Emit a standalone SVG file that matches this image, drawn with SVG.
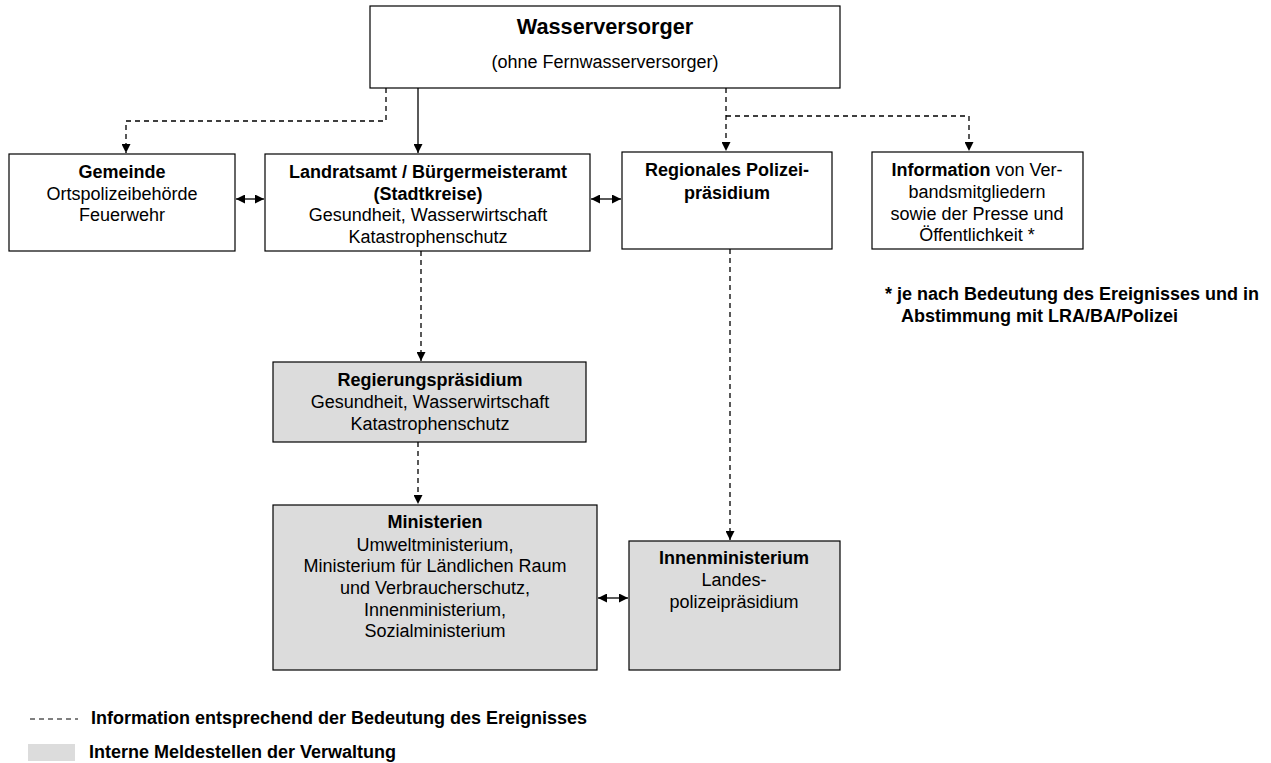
<svg xmlns="http://www.w3.org/2000/svg" width="1271" height="763" viewBox="0 0 1271 763">
<style>
.box{fill:#fff;stroke:#000;stroke-width:1.2}
.gbox{fill:#dcdcdc;stroke:#000;stroke-width:1.2}
text{font-family:"Liberation Sans",Arial,sans-serif;font-size:18px;fill:#000}
.c{text-anchor:middle}
.b{font-weight:bold}
.ln{fill:none;stroke:#000;stroke-width:1.3}
.d{stroke-dasharray:5 4}
</style>
<defs>
<marker id="ah" viewBox="0 0 10 10" refX="10" refY="5" markerWidth="9" markerHeight="9" markerUnits="userSpaceOnUse" orient="auto-start-reverse">
<path d="M0,0 L10,5 L0,10 Z" fill="#000"/>
</marker>
</defs>
<rect x="0" y="0" width="1271" height="763" fill="#fff"/>
<g id="wasserversorger">
<rect class="box" x="370" y="6" width="470" height="82"/>
<text class="c b" x="605" y="34" style="font-size:21.7px">Wasserversorger</text>
<text class="c" x="605" y="68">(ohne Fernwasserversorger)</text>
</g>
<g id="gemeinde">
<rect class="box" x="9" y="154" width="226" height="97"/>
<text class="c b" x="122" y="178">Gemeinde</text>
<text class="c" x="122" y="200">Ortspolizeibehörde</text>
<text class="c" x="122" y="221">Feuerwehr</text>
</g>
<g id="landratsamt">
<rect class="box" x="265" y="154" width="325" height="97"/>
<text class="c b" x="428" y="178">Landratsamt / Bürgermeisteramt</text>
<text class="c b" x="428" y="200">(Stadtkreise)</text>
<text class="c" x="428" y="221">Gesundheit, Wasserwirtschaft</text>
<text class="c" x="428" y="243">Katastrophenschutz</text>
</g>
<g id="polizeipraesidium">
<rect class="box" x="622" y="152" width="210" height="97"/>
<text class="c b" x="727" y="176">Regionales Polizei-</text>
<text class="c b" x="727" y="199">präsidium</text>
</g>
<g id="information">
<rect class="box" x="872" y="152" width="211" height="97"/>
<text class="c" x="977" y="176"><tspan class="b">Information</tspan> von Ver-</text>
<text class="c" x="977" y="198">bandsmitgliedern</text>
<text class="c" x="977" y="220">sowie der Presse und</text>
<text class="c" x="977" y="241">Öffentlichkeit *</text>
</g>
<g id="regierungspraesidium">
<rect class="gbox" x="273" y="362" width="313" height="80"/>
<text class="c b" x="430" y="386">Regierungspräsidium</text>
<text class="c" x="430" y="408">Gesundheit, Wasserwirtschaft</text>
<text class="c" x="430" y="430">Katastrophenschutz</text>
</g>
<g id="ministerien">
<rect class="gbox" x="273" y="505" width="324" height="165"/>
<text class="c b" x="435" y="528">Ministerien</text>
<text class="c" x="435" y="551">Umweltministerium,</text>
<text class="c" x="435" y="572">Ministerium für Ländlichen Raum</text>
<text class="c" x="435" y="594">und Verbraucherschutz,</text>
<text class="c" x="435" y="616">Innenministerium,</text>
<text class="c" x="435" y="637">Sozialministerium</text>
</g>
<g id="innenministerium">
<rect class="gbox" x="629" y="541" width="211" height="129"/>
<text class="c b" x="734" y="564">Innenministerium</text>
<text class="c" x="734" y="586">Landes-</text>
<text class="c" x="734" y="608">polizeipräsidium</text>
</g>
<g id="connectors">
<path class="ln" d="M418,88 V153" marker-end="url(#ah)"/>
<path class="ln d" d="M386,88 V121 H126 V153" marker-end="url(#ah)"/>
<path class="ln d" d="M726,88 V151" marker-end="url(#ah)"/>
<path class="ln d" d="M726,116 H969 V151" marker-end="url(#ah)"/>
<path class="ln" d="M236,199 H264" marker-start="url(#ah)" marker-end="url(#ah)"/>
<path class="ln" d="M591,199 H621" marker-start="url(#ah)" marker-end="url(#ah)"/>
<path class="ln d" d="M421,251 V361" marker-end="url(#ah)"/>
<path class="ln d" d="M418,442 V504" marker-end="url(#ah)"/>
<path class="ln d" d="M730,249 V540" marker-end="url(#ah)"/>
<path class="ln" d="M598,598 H628" marker-start="url(#ah)" marker-end="url(#ah)"/>
</g>
<g id="footnote">
<text class="b" x="885" y="300">* je nach Bedeutung des Ereignisses und in</text>
<text class="b" x="901" y="322">Abstimmung mit LRA/BA/Polizei</text>
</g>
<g id="legend">
<path class="ln d" d="M30,719 H78" style="stroke-width:1"/>
<text class="b" x="91" y="724">Information entsprechend der Bedeutung des Ereignisses</text>
<rect x="28" y="744" width="47" height="17" fill="#dcdcdc"/>
<text class="b" x="89" y="758">Interne Meldestellen der Verwaltung</text>
</g>
</svg>
